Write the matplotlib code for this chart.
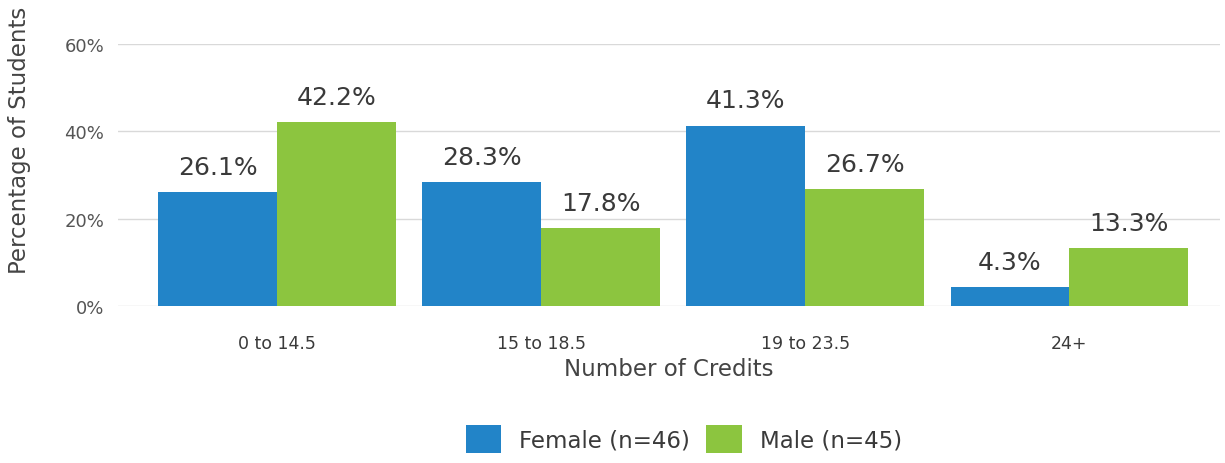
import matplotlib
matplotlib.use("Agg")
import matplotlib.pyplot as plt
import numpy as np

categories = ["0 to 14.5", "15 to 18.5", "19 to 23.5", "24+"]
female = [26.1, 28.3, 41.3, 4.3]
male = [42.2, 17.8, 26.7, 13.3]
series_labels = ["Female (n=46)", "Male (n=45)"]
yticks = [0, 20, 40, 60]

plt.rcParams['font.family'] = ['DejaVu Sans']
txt = '#3a3a3a'
blue = '#2284c8'
green = '#8cc53f'

fig = plt.figure(figsize=(12.25, 4.64), dpi=100)
ax = fig.add_axes([118/1225, 1-307/464, (1220-118)/1225, (307-45)/464])

x = np.arange(len(categories))
w = 0.45
b1 = ax.bar(x - w/2, female, w, color=blue, label=series_labels[0], zorder=3)
b2 = ax.bar(x + w/2, male, w, color=green, label=series_labels[1], zorder=3)

for bars, vals in ((b1, female), (b2, male)):
    for r, v in zip(bars, vals):
        ax.annotate(f"{v}%", (r.get_x() + r.get_width()/2, v), xytext=(0, 9.5),
                    textcoords='offset points', ha='center', va='bottom',
                    fontsize=18, color=txt)

ax.set_ylim(0, 60)
ax.set_xlim(-0.602, 3.57)
ax.set_yticks(yticks)
ax.set_yticklabels([f"{t}%" for t in yticks], fontsize=13, color='#555555')
ax.set_xticks(x)
ax.set_xticklabels(categories, fontsize=12.5, color=txt)
ax.tick_params(axis='y', length=0, pad=10)
ax.tick_params(axis='x', length=0, pad=20)
ax.grid(axis='y', color='#d9d9d9', linewidth=1, zorder=0)
for s in ax.spines.values():
    s.set_visible(False)
ax.set_ylabel("Percentage of Students", fontsize=16.5, color='#444444')
ax.yaxis.set_label_coords(-(118-20)/(1220-118), (307-140)/(307-45))
ax.yaxis.label.set_verticalalignment('center')
ax.set_xlabel("Number of Credits", fontsize=16.5, color='#444444', labelpad=4)

fig.legend(handles=[b1, b2], labels=series_labels, loc='center',
           bbox_to_anchor=(684/1225, 1-440/464), ncol=2, frameon=False,
           fontsize=16.5, handlelength=1.55, handleheight=1.55, handletextpad=0.8,
           columnspacing=0.7, labelcolor=txt)

fig.savefig("out.png", dpi=100)
